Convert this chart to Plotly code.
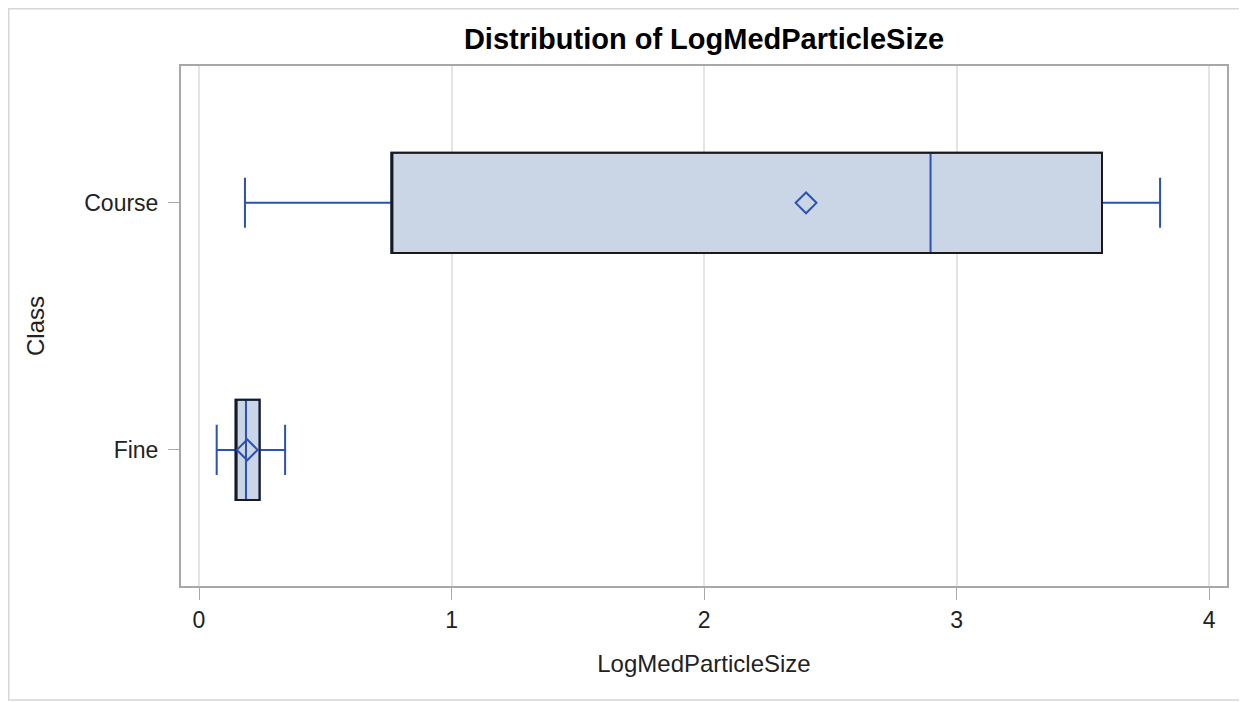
import plotly.graph_objects as go

# ---- data ----
classes = ["Course", "Fine"]
q1_vals = [0.762, 0.145]
median_vals = [2.897, 0.186]
q3_vals = [3.576, 0.240]
lower_whisker = [0.182, 0.070]
upper_whisker = [3.806, 0.341]
mean_vals = [2.404, 0.191]
x_ticks = [0, 1, 2, 3, 4]

FILL = "#CAD5E5"
BLUE = "#2A52B0"
FONT = "Liberation Sans, Arial, sans-serif"

fig = go.Figure()

# box with blue median & whiskers
fig.add_trace(go.Box(
    y=classes, q1=q1_vals, median=median_vals, q3=q3_vals,
    lowerfence=lower_whisker, upperfence=upper_whisker,
    orientation="h", fillcolor=FILL, line=dict(color=BLUE, width=2),
    width=0.405, whiskerwidth=0.5, boxpoints=False, showlegend=False,
    hoverinfo="skip",
))
# black outline of the box (interquartile range only)
fig.add_trace(go.Box(
    y=classes, q1=q1_vals, median=q1_vals, q3=q3_vals,
    lowerfence=q1_vals, upperfence=q3_vals,
    orientation="h", fillcolor="rgba(0,0,0,0)", line=dict(color="#1a1a1a", width=2),
    width=0.405, whiskerwidth=0, boxpoints=False, showlegend=False,
    hoverinfo="skip",
))
# means
fig.add_trace(go.Scatter(
    x=mean_vals, y=classes, mode="markers",
    marker=dict(symbol="diamond-open", size=16, color=BLUE, line=dict(width=2, color=BLUE)),
    showlegend=False, hoverinfo="skip",
))

# page body has an 8px margin, so the figure starts at (8, 8) in the window
OFF = 8
W, H = 1247 - OFF, 702 - OFF
L, T = 181 - OFF, 66 - OFF
R = W - (1227 - OFF)
B = H - (586 - OFF)
pw, ph = W - L - R, H - T - B

fig.update_layout(
    width=W, height=H,
    margin=dict(l=L, r=R, t=T, b=B, pad=0),
    paper_bgcolor="white", plot_bgcolor="white",
    boxmode="overlay",
    font=dict(family=FONT, color="#222222"),
    title=dict(text="<b>Distribution of LogMedParticleSize</b>",
               font=dict(family=FONT, size=29, color="black"),
               x=(L + pw / 2) / W, xanchor="center", y=1 - (39 - OFF) / H, yanchor="middle"),
    xaxis=dict(
        range=[-0.0713, 4.071], tickvals=x_ticks, ticktext=[str(v) for v in x_ticks],
        showgrid=True, gridcolor="#e4e4e4", gridwidth=1.5, zeroline=False,
        showline=True, linecolor="#a8a8a8", linewidth=2, mirror=True,
        ticks="outside", ticklen=12, tickcolor="#a8a8a8", tickwidth=1,
        tickfont=dict(size=23, color="#222222"), ticklabelstandoff=0,
        title=dict(text="LogMedParticleSize", font=dict(size=24, color="#222222"), standoff=24),
    ),
    yaxis=dict(
        type="category", categoryorder="array", categoryarray=["Fine", "Course"],
        range=[-0.551, 1.554], showgrid=False, zeroline=False,
        showline=True, linecolor="#a8a8a8", linewidth=2, mirror=True,
        ticks="outside", ticklen=11, tickcolor="#a8a8a8", tickwidth=1,
        tickfont=dict(size=23, color="#222222"), ticklabelstandoff=5,
        title=dict(text="Class", font=dict(size=24, color="#222222"), standoff=33),
    ),
    shapes=[dict(type="rect", xref="paper", yref="paper",
                 x0=(0.75 - L) / pw, x1=(W - 2 - L) / pw,
                 y0=-(B - 2) / ph, y1=1 + (T - 0.75) / ph,
                 line=dict(color="#d6d6d6", width=1.5), layer="below")],
)

fig.write_html("out.html")
